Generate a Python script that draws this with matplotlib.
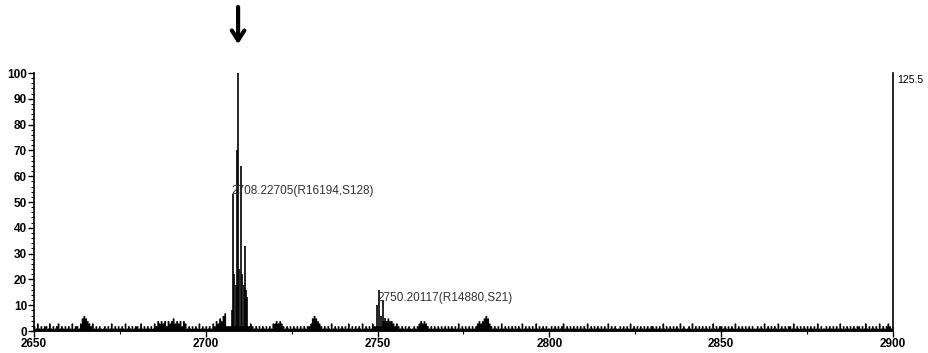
import numpy as np
import matplotlib
matplotlib.use("Agg")
from matplotlib import pyplot as plt
from matplotlib.ticker import MultipleLocator

plt.rcParams['font.family'] = ['Liberation Sans', 'DejaVu Sans']

# baseline noise, one digit per 0.5 m/z step from 2650 to 2900 (height in %)
noise_start = 2650.0
noise_step = 0.5
noise_digits = (
    "21312122131212312121"  # 2650
    "21312213565432312121"  # 2660
    "12121312121213121212"  # 2670
    "21312121213243434243"  # 2680
    "45343424312121213121"  # 2690
    "21213243546722222222"  # 2700
    "22222232121212121213"  # 2710
    "34343212121212121212"  # 2720
    "23565432121213121212"  # 2730
    "12131212121312121322"  # 2740
    "22244353432321212121"  # 2750
    "12123434321212121212"  # 2760
    "12121213121212121234"  # 2770
    "34565321212131212121"  # 2780
    "21213121212131212121"  # 2790
    "12121212312121212121"  # 2800
    "21312121212121312121"  # 2810
    "12121213121212121212"  # 2820
    "21212131212121213121"  # 2830
    "12131212121212131212"  # 2840
    "21212121312121212121"  # 2850
    "12121312121213121212"  # 2860
    "21312121212121213121"  # 2870
    "12121212131212121212"  # 2880
    "21213121212131212321"  # 2890
    "2"
)

# main isotope cluster around 2708
peak1_mz = [2707.5, 2708.0, 2708.3, 2708.7, 2709.0, 2709.4, 2709.7, 2710.2, 2710.6, 2711.0, 2711.4, 2711.8, 2712.1]
peak1_int = [8, 53, 22, 18, 70, 100, 24, 64, 22, 18, 33, 16, 13]

# second cluster around 2750
peak2_mz = [2749.8, 2750.4, 2750.9, 2751.6, 2752.2, 2752.8, 2753.5]
peak2_int = [10, 16, 6, 12, 5, 4, 4]

label1 = "2708.22705(R16194,S128)"
label2 = "2750.20117(R14880,S21)"

noise_int = np.array([int(c) for c in noise_digits], dtype=float)
noise_mz = noise_start + noise_step * np.arange(len(noise_int))

fig = plt.figure(figsize=(9.29, 3.53), dpi=100)
ax = fig.add_axes([0.0366, 0.0623, 0.9246, 0.7309])

ax.fill_between(noise_mz, 0, noise_int, step='mid', color='k', lw=0)
ax.vlines(noise_mz, 0, noise_int, color='k', lw=0.8)
ax.vlines(peak1_mz, 0, peak1_int, color='k', lw=1.2)
ax.vlines(peak2_mz, 0, peak2_int, color='k', lw=1.2)

ax.set_xlim(2650, 2900)
ax.set_ylim(0, 100)

ax.spines['top'].set_visible(False)
for s in ['left', 'bottom', 'right']:
    ax.spines[s].set_linewidth(1.2)

ax.xaxis.set_major_locator(MultipleLocator(50))
ax.xaxis.set_minor_locator(MultipleLocator(25))
ax.yaxis.set_major_locator(MultipleLocator(10))
ax.yaxis.set_minor_locator(MultipleLocator(2))
ax.tick_params(axis='both', which='major', length=4, width=1, labelsize=8.5, pad=1)
ax.tick_params(axis='both', which='minor', length=2, width=0.8)
ax.tick_params(axis='y', right=False)
for lab in ax.get_xticklabels() + ax.get_yticklabels():
    lab.set_fontweight('bold')

ax.text(2707.6, 54.3, label1, fontsize=8.5, color='#333333', va='center', ha='left')
ax.text(2750.0, 12.8, label2, fontsize=8.5, color='#333333', va='center', ha='left')
ax.text(2901.2, 97.3, "125.5", fontsize=7.5, va='center', ha='left', clip_on=False)

ax.annotate("", xy=(2709.4, 111.2), xytext=(2709.4, 125.6),
            arrowprops=dict(arrowstyle="->, head_length=0.7, head_width=0.45", lw=3, color='k',
                            shrinkA=0, shrinkB=0),
            annotation_clip=False)

plt.savefig("out.png", dpi=100)
